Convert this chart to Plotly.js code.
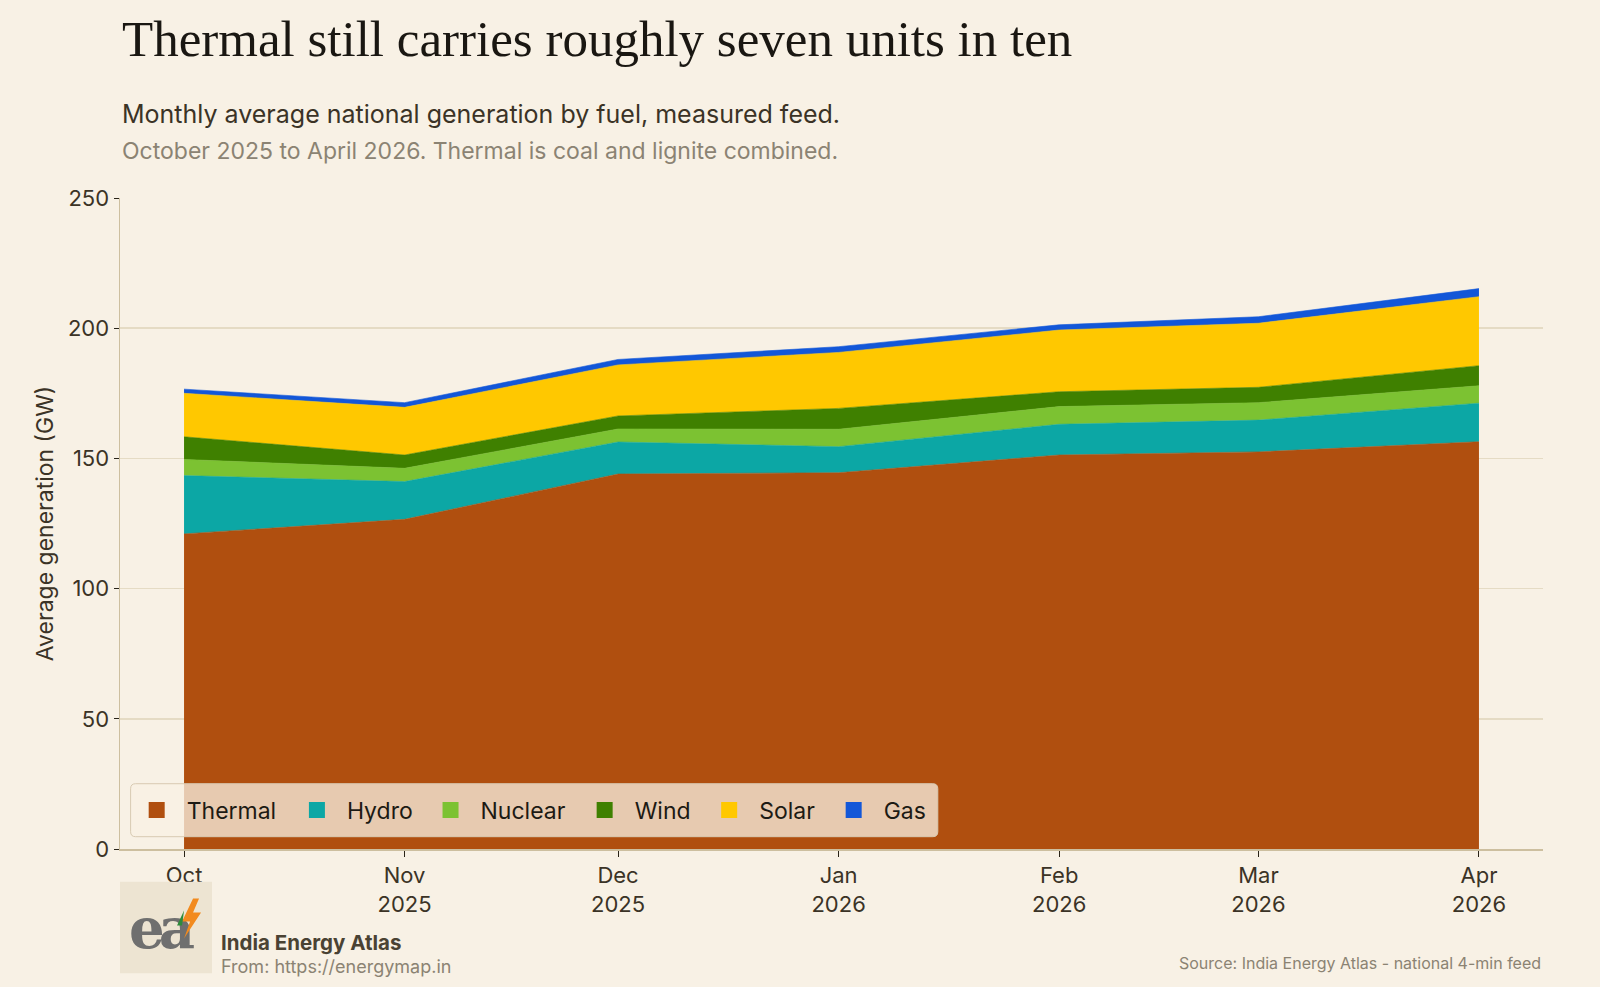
<!DOCTYPE html>
<html>
<head>
<meta charset="utf-8">
<script src="https://cdn.plot.ly/plotly-3.0.1.min.js"></script>
<style>
  html, body { margin: 0; padding: 0; background: #f8f1e5; }
  #chart { width: 1600px; height: 987px; }
</style>
</head>
<body>
<div id="chart"></div>
<script>
// ---- data ----
const months = ['2025-10-01', '2025-11-01', '2025-12-01', '2026-01-01', '2026-02-01', '2026-03-01', '2026-04-01'];
const tickLabels = ['Oct<br>2025', 'Nov<br>2025', 'Dec<br>2025', 'Jan<br>2026', 'Feb<br>2026', 'Mar<br>2026', 'Apr<br>2026'];
const thermal = [121.0, 126.6, 144.0, 144.5, 151.3, 152.5, 156.4];
const hydro   = [22.4, 14.5, 12.3, 10.0, 11.8, 12.2, 14.8];
const nuclear = [6.2, 5.1, 5.0, 6.7, 6.8, 6.7, 6.7];
const wind    = [8.7, 5.1, 5.0, 8.0, 5.7, 5.9, 7.7];
const solar   = [16.7, 18.3, 19.6, 21.5, 23.7, 24.6, 26.5];
const gas     = [1.6, 1.8, 2.1, 2.2, 2.0, 2.5, 3.1];

const seriesNames = ['Thermal', 'Hydro', 'Nuclear', 'Wind', 'Solar', 'Gas'];
const seriesValues = [thermal, hydro, nuclear, wind, solar, gas];
const seriesColors = ['#b04f0f', '#0ca7a5', '#7cc232', '#3f8000', '#ffc800', '#1357d8'];

// legend entry positions (paper x of each entry)
const legendX = [0.0047, 0.1173, 0.2112, 0.3195, 0.4070, 0.4945];
const legendIds = ['legend', 'legend2', 'legend3', 'legend4', 'legend5', 'legend6'];

const areaTraces = seriesNames.map((name, i) => ({
  type: 'scatter',
  mode: 'lines',
  name: name,
  legendgroup: name,
  showlegend: false,
  x: months,
  y: seriesValues[i],
  stackgroup: 'one',
  line: { color: seriesColors[i], width: 0.6 },
  fillcolor: seriesColors[i],
  hoverinfo: 'x+y+name'
}));

// legend entries (square swatches), no plotted points
const legendTraces = seriesNames.map((name, i) => ({
  type: 'scatter',
  mode: 'markers',
  name: name,
  legendgroup: name,
  legend: legendIds[i],
  x: [null],
  y: [null],
  marker: { symbol: 'square', size: 16, color: seriesColors[i] },
  hoverinfo: 'skip'
}));

const inkDark = '#3b3326';
const inkGray = '#8b8373';

const logoSvg = '<svg xmlns="http://www.w3.org/2000/svg" width="92" height="92" viewBox="0 0 92 92">' +
  '<rect width="92" height="92" fill="#ede4d2"/>' +
  '<text x="9" y="66" font-family="DejaVu Serif, serif" font-size="56" font-weight="bold" fill="#6f6f6f" letter-spacing="-6">ea</text>' +
  '<polygon points="73,17 62,40 70,40 64,57 81,31 73,31 79,17" fill="#f28a1e"/>' +
  '<polygon points="64,29 57,44 62,44" fill="#2e8b3a"/>' +
  '</svg>';
const logoUri = 'data:image/svg+xml;charset=utf-8,' + encodeURIComponent(logoSvg);

// legend frame (rounded rectangle) in paper coordinates
const bx0 = 0.00745, bx1 = 0.5747, by0 = 0.0189, by1 = 0.1003, rx = 0.0035, ry = 0.0077;
const framePath = 'M' + (bx0 + rx) + ',' + by0 +
  ' L' + (bx1 - rx) + ',' + by0 + ' Q' + bx1 + ',' + by0 + ' ' + bx1 + ',' + (by0 + ry) +
  ' L' + bx1 + ',' + (by1 - ry) + ' Q' + bx1 + ',' + by1 + ' ' + (bx1 - rx) + ',' + by1 +
  ' L' + (bx0 + rx) + ',' + by1 + ' Q' + bx0 + ',' + by1 + ' ' + bx0 + ',' + (by1 - ry) +
  ' L' + bx0 + ',' + (by0 + ry) + ' Q' + bx0 + ',' + by0 + ' ' + (bx0 + rx) + ',' + by0 + ' Z';

const layout = {
  width: 1600,
  height: 987,
  paper_bgcolor: '#f8f1e5',
  plot_bgcolor: '#f8f1e5',
  margin: { l: 120, r: 57, t: 198, b: 138 },
  font: { family: 'Inter, sans-serif', color: inkDark, size: 22 },
  showlegend: true,
  xaxis: {
    type: 'date',
    range: ['2025-09-22', '2026-04-10'],
    tickvals: months,
    ticktext: tickLabels,
    ticks: 'outside',
    ticklen: 6,
    tickcolor: '#2a2418',
    showgrid: false,
    showline: true,
    linecolor: '#cdbf9f',
    linewidth: 1.5,
    zeroline: false,
    tickfont: { family: 'Inter, sans-serif', size: 22, color: inkDark }
  },
  yaxis: {
    range: [0, 250],
    tickvals: [0, 50, 100, 150, 200, 250],
    ticks: 'outside',
    ticklen: 5,
    tickcolor: '#2a2418',
    showgrid: true,
    gridcolor: '#e5dbc4',
    gridwidth: 1.5,
    showline: true,
    linecolor: '#cdbf9f',
    linewidth: 1.5,
    zeroline: false,
    tickfont: { family: 'Inter, sans-serif', size: 22, color: inkDark },
    title: { text: 'Average generation (GW)', font: { family: 'Inter, sans-serif', size: 23, color: inkDark }, standoff: 8 }
  },
  shapes: [
    { type: 'path', path: framePath, xref: 'paper', yref: 'paper', layer: 'above',
      fillcolor: 'rgba(248,240,228,0.76)', line: { color: '#d8cab2', width: 1 } }
  ],
  annotations: [
    { text: 'Thermal still carries roughly seven units in ten', xref: 'paper', yref: 'paper', x: 0, y: 1.244,
      xanchor: 'left', yanchor: 'middle', showarrow: false,
      font: { family: 'Liberation Serif, serif', size: 51, color: '#1a1712' } },
    { text: 'Monthly average national generation by fuel, measured feed.', xref: 'paper', yref: 'paper', x: 0, y: 1.129,
      xanchor: 'left', yanchor: 'middle', showarrow: false,
      font: { family: 'Inter, sans-serif', size: 25, color: inkDark } },
    { text: 'October 2025 to April 2026. Thermal is coal and lignite combined.', xref: 'paper', yref: 'paper', x: 0, y: 1.072,
      xanchor: 'left', yanchor: 'middle', showarrow: false,
      font: { family: 'Inter, sans-serif', size: 23, color: inkGray } },
    { text: '<b>India Energy Atlas</b>', xref: 'paper', yref: 'paper', x: 0.0696, y: -0.143,
      xanchor: 'left', yanchor: 'middle', showarrow: false,
      font: { family: 'Inter, sans-serif', size: 20.5, color: '#4a4233' } },
    { text: 'From: https://energymap.in', xref: 'paper', yref: 'paper', x: 0.0696, y: -0.181,
      xanchor: 'left', yanchor: 'middle', showarrow: false,
      font: { family: 'Inter, sans-serif', size: 18, color: inkGray } },
    { text: 'Source: India Energy Atlas - national 4-min feed', xref: 'paper', yref: 'paper', x: 1, y: -0.175,
      xanchor: 'right', yanchor: 'middle', showarrow: false,
      font: { family: 'Inter, sans-serif', size: 16, color: inkGray } }
  ],
  images: [
    { source: logoUri, xref: 'paper', yref: 'paper', x: 0, y: -0.05, sizex: 0.0647, sizey: 0.1413,
      xanchor: 'left', yanchor: 'top', sizing: 'stretch', layer: 'above' }
  ]
};

legendIds.forEach((id, i) => {
  layout[id] = {
    orientation: 'h',
    x: legendX[i], xanchor: 'left',
    y: 0.0599, yanchor: 'middle',
    bgcolor: 'rgba(0,0,0,0)',
    borderwidth: 0,
    font: { family: 'Inter, sans-serif', size: 23, color: '#1d1a14' },
    itemwidth: 50
  };
});

Plotly.newPlot('chart', areaTraces.concat(legendTraces), layout, { displayModeBar: false, staticPlot: true });
</script>
</body>
</html>
